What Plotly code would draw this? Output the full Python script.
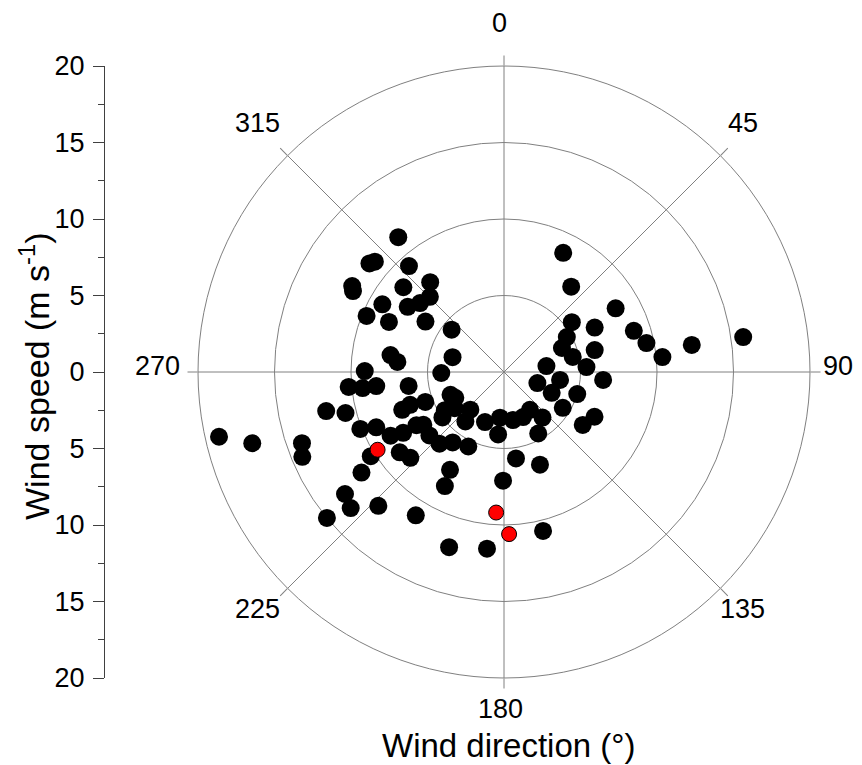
import math
import plotly.graph_objects as go

# Wind direction (degrees, clockwise from north) and wind speed (m/s)
direction_black = [321.9, 308.9, 310.5, 318.1, 299.5, 298.2, 310.1, 320.6, 315.4, 309.4,
                   304.1, 299.1, 292.2, 293.5, 302.7, 308.9, 286.1, 278.5, 275.4, 270.4,
                   269.1, 264.5, 263.5, 263.7, 261.7, 257.6, 255.5, 249.6, 250.7, 248.4,
                   246.6, 240.7, 238.9, 238.7, 250.6, 247.2, 237.7, 232.4, 227.5, 234.8,
                   257.2, 254.2, 232.5, 228.4, 223.2, 230.5, 211.6, 246.9, 242.1, 249.2,
                   237.2, 233.7, 221.8, 233.6, 218.0, 200.8, 236.8, 229.6, 222.0, 216.1,
                   205.6, 208.9, 207.4, 185.4, 185.0, 169.4, 157.1, 145.6, 139.8, 150.9,
                   180.5, 172.1, 158.8, 166.2, 197.4, 185.5, 26.4, 38.2, 53.7, 60.9,
                   67.5, 77.6, 63.9, 60.3, 72.4, 78.5, 84.6, 81.8, 81.7, 76.4,
                   86.6, 94.6, 82.1, 108.4, 98.1, 113.6, 106.8, 121.4, 123.9, 116.3]
speed_black = [11.2, 11.3, 11.1, 9.3, 11.4, 11.2, 8.6, 7.6, 6.9, 7.1,
               7.6, 9.1, 9.7, 8.2, 6.1, 4.4, 3.5, 7.5, 7.0, 9.1,
               4.1, 10.2, 9.3, 8.4, 6.3, 11.9, 10.7, 7.1, 6.5, 10.1,
               9.1, 8.5, 7.7, 6.7, 14.0, 14.3, 10.3, 8.6, 8.3, 11.4,
               19.1, 17.1, 13.1, 13.4, 12.0, 15.0, 11.0, 3.8, 3.6, 5.5,
               4.6, 4.0, 3.3, 5.0, 4.1, 3.5, 6.3, 6.4, 6.3, 5.7,
               5.4, 7.3, 8.4, 4.1, 3.0, 3.2, 3.2, 3.0, 3.9, 4.6,
               7.1, 5.7, 6.5, 10.7, 12.0, 11.6, 8.7, 7.1, 5.5, 4.7,
               4.1, 4.6, 6.6, 8.4, 8.9, 9.5, 10.4, 12.4, 15.8, 6.1,
               5.4, 6.5, 2.8, 2.3, 3.7, 3.4, 5.0, 4.5, 6.2, 6.6]

direction_red = [238.4, 183.2, 178.2]
speed_red = [9.7, 9.2, 10.6]

angle_ticks = [0, 45, 90, 135, 180, 225, 270, 315]
angle_labels = [str(a) for a in angle_ticks]

speed_tickvals = [-20, -15, -10, -5, 0, 5, 10, 15, 20]
speed_ticktext = [str(abs(v)) for v in speed_tickvals]

FONT = "Arial, Liberation Sans, sans-serif"
GRID = "#808080"

W, H = 862, 765
OFF = 8  # page body margin offset


def px(x, y):
    """screen pixel -> paper coords"""
    return (x - OFF) / W, (H - (y - OFF)) / H


cx, cy, R = 504, 372, 306
x0, y0 = px(cx - R, cy + R)
x1, y1 = px(cx + R, cy - R)
xd = [x0, x1]
yd = [y0, y1]

fig = go.Figure()

fig.add_trace(go.Scatterpolar(
    r=speed_black, theta=direction_black, mode="markers",
    marker=dict(color="black", size=18, line=dict(width=0)),
    showlegend=False,
))
fig.add_trace(go.Scatterpolar(
    r=speed_red, theta=direction_red, mode="markers",
    marker=dict(color="#ff0000", size=15, line=dict(color="black", width=1)),
    showlegend=False,
))

# helper empty trace so the linear speed axis is drawn
fig.add_trace(go.Scatter(x=[None], y=[None], xaxis="x", yaxis="y",
                         showlegend=False, hoverinfo="skip"))

axis_x = px(105, 0)[0]

annotations = []
# angular tick labels placed on a ring outside the plot
lcx, lcy, LR = 500, 366, 343
for a, t in zip(angle_ticks, angle_labels):
    lx = min(lcx + LR * math.sin(math.radians(a)), 838)
    ly = lcy - LR * math.cos(math.radians(a))
    ax_, ay_ = px(lx, ly)
    annotations.append(dict(text=t, x=ax_, y=ay_, xref="paper", yref="paper",
                            showarrow=False, xanchor="center", yanchor="middle",
                            font=dict(family=FONT, size=27, color="black")))

tx, ty = px(35, 376)
annotations.append(dict(text="Wind speed (m s<sup>-1</sup>)", x=tx, y=ty,
                        xref="paper", yref="paper", showarrow=False, textangle=-90,
                        font=dict(family=FONT, size=34, color="black"),
                        xanchor="center", yanchor="middle"))
bx, by = px(508, 745)
annotations.append(dict(text="Wind direction (°)", x=bx, y=by,
                        xref="paper", yref="paper", showarrow=False,
                        font=dict(family=FONT, size=33, color="black"),
                        xanchor="center", yanchor="middle"))

fig.update_layout(
    width=W, height=H,
    margin=dict(l=0, r=0, t=0, b=0, pad=0, autoexpand=False),
    paper_bgcolor="white", plot_bgcolor="white",
    font=dict(family=FONT, color="black", size=26),
    polar=dict(
        domain=dict(x=xd, y=yd),
        bgcolor="white",
        angularaxis=dict(
            rotation=90, direction="clockwise",
            tickmode="array", tickvals=angle_ticks, ticktext=angle_labels,
            showticklabels=False,
            ticks="outside", ticklen=10, tickcolor=GRID, tickwidth=1,
            showline=True, linecolor=GRID, linewidth=1,
            showgrid=True, gridcolor=GRID, gridwidth=1,
        ),
        radialaxis=dict(
            range=[0, 20], tickmode="array", tickvals=[5, 10, 15, 20],
            showticklabels=False, ticks="", showline=False,
            showgrid=True, gridcolor=GRID, gridwidth=1,
        ),
    ),
    xaxis=dict(domain=[axis_x, axis_x + 0.05], visible=False, range=[0, 1],
               automargin=False),
    yaxis=dict(
        domain=yd, anchor="x", side="left", range=[-20, 20], automargin=False,
        tickmode="array", tickvals=speed_tickvals, ticktext=speed_ticktext,
        ticks="outside", ticklen=11, tickcolor="#404040", tickwidth=1,
        minor=dict(dtick=2.5, ticks="outside", ticklen=6, tickcolor="#404040", tickwidth=1),
        showline=True, linecolor="#404040", linewidth=1,
        showgrid=False, zeroline=False, ticklabelstandoff=3,
        tickfont=dict(family=FONT, size=27, color="black"),
    ),
    annotations=annotations,
)

fig.write_html("out.html")
